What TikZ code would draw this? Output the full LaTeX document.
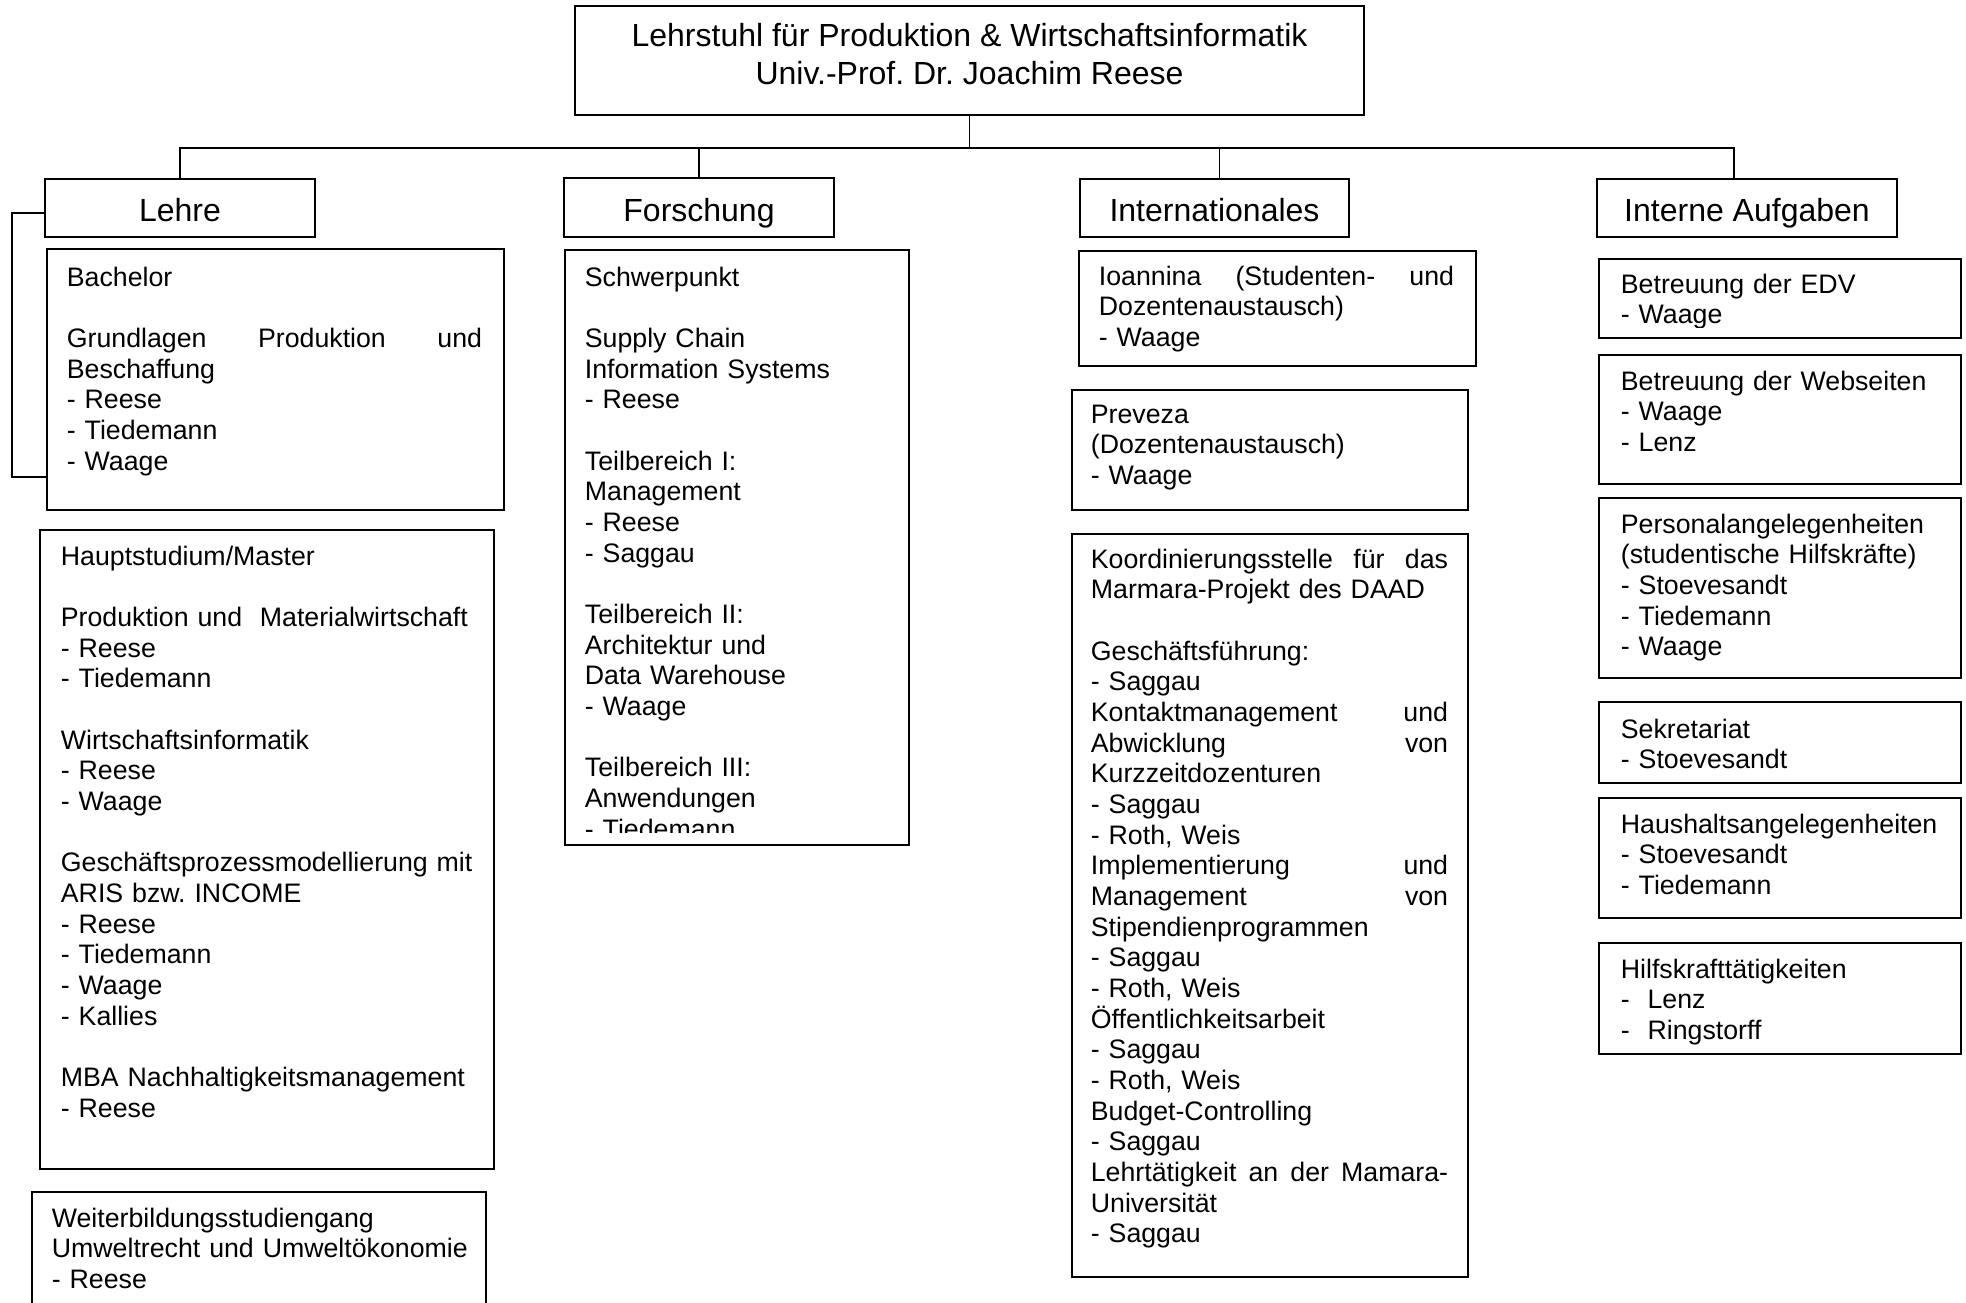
\documentclass[tikz,border=0pt]{standalone}
\usepackage{fontspec}
\setmainfont{Liberation Sans}
\usepackage{tikz}
\frenchspacing
\newcommand{\orgtext}{\fontsize{7.6pt}{8.72pt}\selectfont}
\newcommand{\orghead}{\fontsize{9.1pt}{10.7pt}\selectfont}

\begin{document}
\begin{tikzpicture}[x=0.01cm, y=-0.01cm, line width=0.5pt]
\tikzset{
  orgbox/.style={draw, anchor=north west, inner sep=0pt},
  headbox/.style={draw, inner sep=0pt, font=\orghead, text height=7.8pt, text depth=0pt},
  boxtext/.style={anchor=north west, inner sep=0pt, align=left, font=\orgtext}
}
\useasboundingbox (0,0) rectangle (1966,1303);

\node[headbox, minimum width=7.89cm, minimum height=1.09cm] (chair) at (969.5,60.5) {};
\node[anchor=north, align=center, font=\orghead, inner sep=0pt] (chair-t) at (969.5,22.5)
  {Lehrstuhl für Produktion \& Wirtschaftsinformatik\\Univ.-Prof. Dr. Joachim Reese};

\node[headbox, minimum width=2.70cm, minimum height=0.58cm] (lehre) at (180,208) {Lehre};
\node[headbox, minimum width=2.70cm, minimum height=0.59cm] (forsch) at (699,207.5) {Forschung};
\node[headbox, minimum width=2.69cm, minimum height=0.58cm] (intl) at (1214.5,208) {Internationales};
\node[headbox, minimum width=3.00cm, minimum height=0.58cm] (intern) at (1747,208) {Interne Aufgaben};

\draw (chair.south) -- ++(0,32) -| (lehre.north);
\draw (chair.south) -- ++(0,32) -| (forsch.north);
\draw (chair.south) -- ++(0,32) -| ([xshift=0.05cm]intl.north);
\draw (chair.south) -- ++(0,32) -| ([xshift=-0.13cm]intern.north);

\node[orgbox, minimum width=4.57cm, minimum height=2.61cm] (bach) at (46,248) {};
\node[boxtext, text width=4.15cm] (bach-t) at (66,266)
  {Bachelor\\[\baselineskip]Grundlagen\hfill Produktion\hfill und\\Beschaffung\\- Reese\\- Tiedemann\\- Waage};
\draw ([yshift=-0.05cm]lehre.west) -- ++(-32,0) |- ([yshift=0.34cm]bach.south west);

\node[orgbox, minimum width=4.54cm, minimum height=6.39cm] (haupt) at (39,529) {};
\node[boxtext, text width=4.25cm] (haupt-t) at (60,545)
  {Hauptstudium/Master\\[\baselineskip]Produktion und\ \ Materialwirtschaft\\- Reese\\- Tiedemann\\[\baselineskip]%
   Wirtschaftsinformatik\\- Reese\\- Waage\\[\baselineskip]%
   Geschäftsprozessmodellierung mit\\ARIS bzw. INCOME\\- Reese\\- Tiedemann\\- Waage\\- Kallies\\[\baselineskip]%
   MBA Nachhaltigkeitsmanagement\\- Reese};

\node[orgbox, minimum width=4.54cm, minimum height=2.00cm] (weiter) at (31,1191) {};
\node[boxtext, text width=4.25cm] (weiter-t) at (51,1207)
  {Weiterbildungsstudiengang\\Umweltrecht und Umweltökonomie\\- Reese};

\node[orgbox, minimum width=3.44cm, minimum height=5.95cm] (schwer) at (564,249) {};
\begin{scope}
\clip (schwer.north west) rectangle ([yshift=0.14cm]schwer.south east);
\node[boxtext, text width=3.1cm] (schwer-t) at (584,266)
  {Schwerpunkt\\[\baselineskip]Supply Chain\\Information Systems\\- Reese\\[\baselineskip]%
   Teilbereich I:\\Management\\- Reese\\- Saggau\\[\baselineskip]%
   Teilbereich II:\\Architektur und\\Data Warehouse\\- Waage\\[\baselineskip]%
   Teilbereich III:\\Anwendungen\\- Tiedemann};
\end{scope}

\node[orgbox, minimum width=3.97cm, minimum height=1.15cm] (ioan) at (1078,250) {};
\node[boxtext, text width=3.55cm] (ioan-t) at (1098,265)
  {Ioannina\hfill (Studenten-\hfill und\\Dozentenaustausch)\\- Waage};

\node[orgbox, minimum width=3.96cm, minimum height=1.20cm] (prev) at (1071,389) {};
\node[boxtext, text width=3.5cm] (prev-t) at (1090,404)
  {Preveza\\(Dozentenaustausch)\\- Waage};

\node[orgbox, minimum width=3.96cm, minimum height=7.43cm] (koord) at (1071,533) {};
\node[boxtext, text width=3.57cm] (koord-t) at (1090,548)
  {Koordinierungsstelle\hfill für\hfill das\\Marmara-Projekt des DAAD\\[\baselineskip]%
   Geschäftsführung:\\- Saggau\\Kontaktmanagement\hfill und\\Abwicklung\hfill von\\Kurzzeitdozenturen\\- Saggau\\- Roth, Weis\\%
   Implementierung\hfill und\\Management\hfill von\\Stipendienprogrammen\\- Saggau\\- Roth, Weis\\%
   Öffentlichkeitsarbeit\\- Saggau\\- Roth, Weis\\Budget-Controlling\\- Saggau\\%
   Lehrtätigkeit\hfill an\hfill der\hfill Mamara-\\Universität\\- Saggau};

\node[orgbox, minimum width=3.62cm, minimum height=0.79cm] (edv) at (1598,258) {};
\begin{scope}
\clip (edv.north west) rectangle ([yshift=0.11cm]edv.south east);
\node[boxtext, text width=3.3cm] (edv-t) at (1620,273) {Betreuung der EDV\\- Waage};
\end{scope}

\node[orgbox, minimum width=3.62cm, minimum height=1.29cm] (web) at (1598,354) {};
\node[boxtext, text width=3.3cm] (web-t) at (1620,370) {Betreuung der Webseiten\\- Waage\\- Lenz};

\node[orgbox, minimum width=3.62cm, minimum height=1.80cm] (pers) at (1598,497) {};
\node[boxtext, text width=3.3cm] (pers-t) at (1620,513)
  {Personalangelegenheiten\\(studentische Hilfskräfte)\\- Stoevesandt\\- Tiedemann\\- Waage};

\node[orgbox, minimum width=3.62cm, minimum height=0.81cm] (sekr) at (1598,701) {};
\node[boxtext, text width=3.3cm] (sekr-t) at (1620,718) {Sekretariat\\- Stoevesandt};

\node[orgbox, minimum width=3.62cm, minimum height=1.20cm] (haus) at (1598,797) {};
\node[boxtext, text width=3.3cm] (haus-t) at (1620,813) {Haushaltsangelegenheiten\\- Stoevesandt\\- Tiedemann};

\node[orgbox, minimum width=3.62cm, minimum height=1.11cm] (hilf) at (1598,942) {};
\node[boxtext, text width=3.3cm] (hilf-t) at (1620,958) {Hilfskrafttätigkeiten\\-\ \ Lenz\\-\ \ Ringstorff};
\end{tikzpicture}
\end{document}
